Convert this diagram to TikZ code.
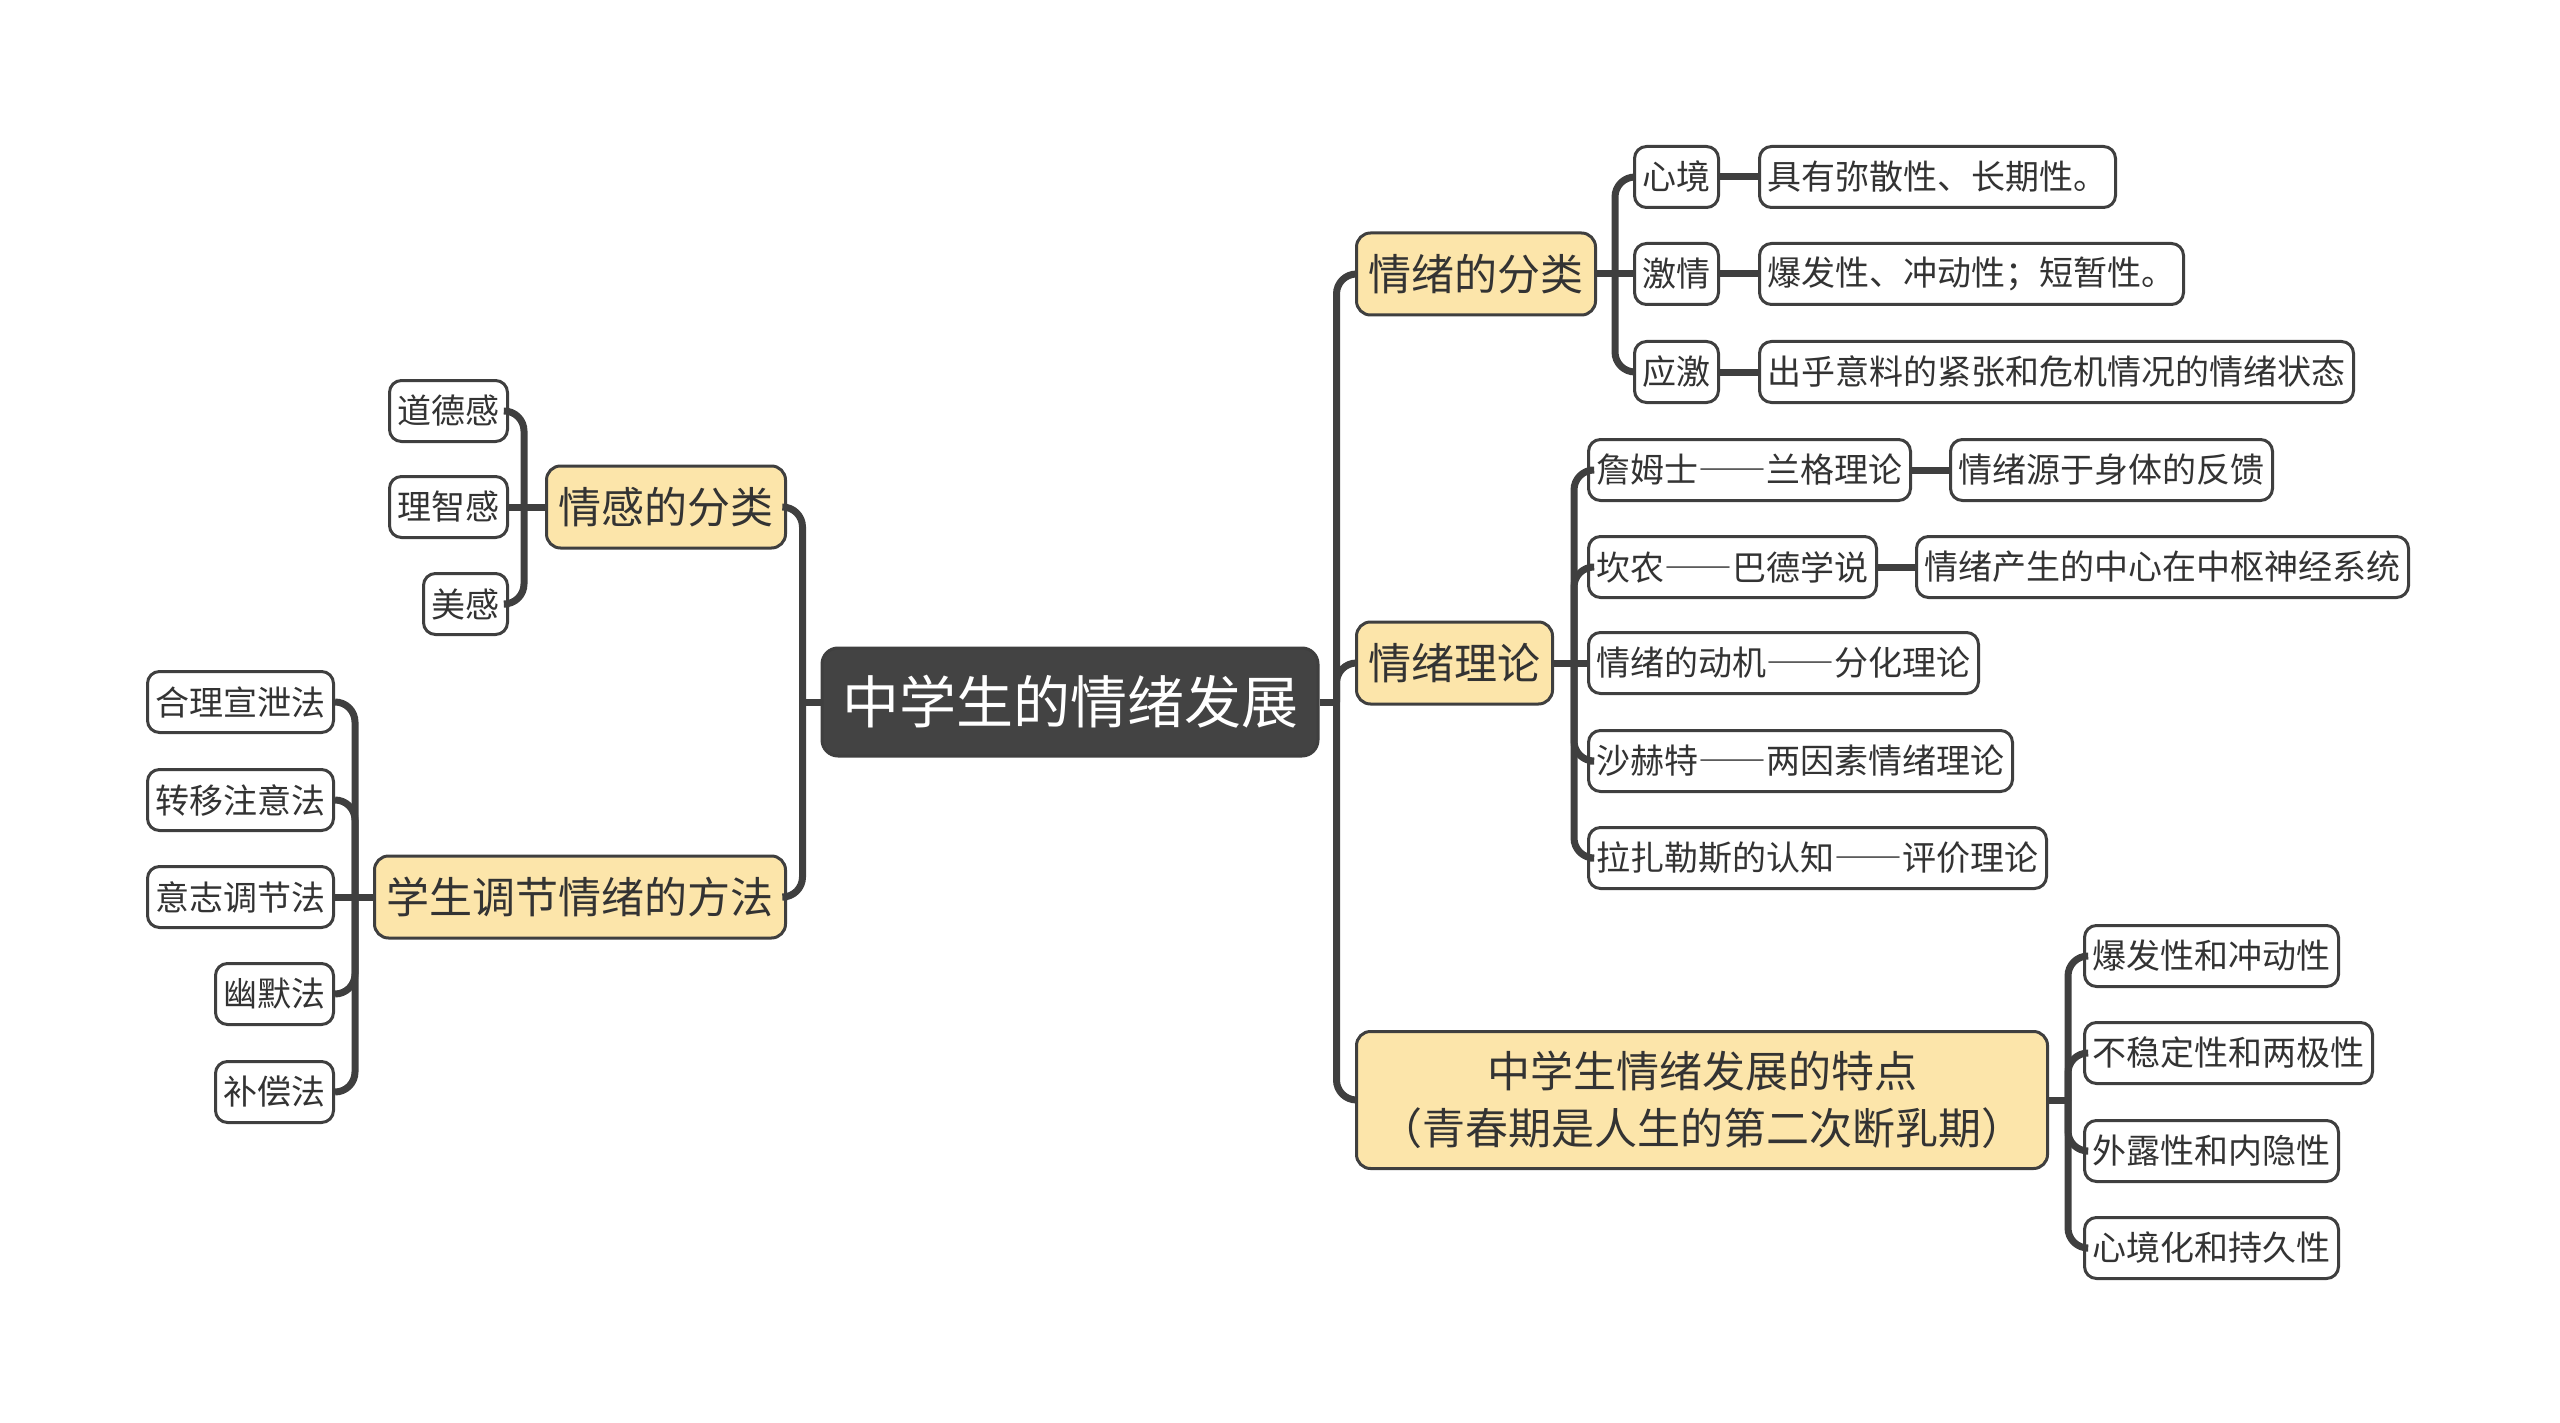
\documentclass[tikz,border=0pt]{standalone}
\usepackage{fontspec}
\usepackage{tikz}
\newfontfamily\cjk{Noto Sans CJK SC}
\newcommand{\longdash}{{\addfontfeature{CharacterWidth=Full}——}}
\usetikzlibrary{positioning}
\definecolor{linegray}{HTML}{3F3F3F}
\definecolor{rootgray}{HTML}{434343}
\definecolor{topicyellow}{HTML}{FCE5AA}
\definecolor{inkgray}{HTML}{333333}

\begin{document}
\begin{tikzpicture}[
    x=1pt, y=-1pt,
    root/.style={
        draw=linegray, line width=3pt, fill=rootgray, text=white,
        rounded corners=16pt, inner xsep=20pt, minimum height=108pt,
        font=\cjk\fontsize{57}{68}\selectfont,
    },
    topic/.style={
        draw=linegray, line width=3pt, fill=topicyellow, text=inkgray,
        rounded corners=14pt, inner xsep=12pt, minimum height=82pt, align=center,
        font=\cjk\fontsize{43}{57}\selectfont,
    },
    leaf/.style={
        draw=linegray, line width=3pt, fill=white, text=inkgray,
        rounded corners=12pt, inner xsep=8pt, minimum height=61pt,
        font=\cjk\fontsize{34}{40}\selectfont,
    },
    link/.style={draw=linegray, line width=7pt, rounded corners=20pt},
]
\useasboundingbox (0,0) rectangle (2560,1423);

\node[root] (root) at (1070,702) {中学生的情绪发展};

\node[topic, anchor=west] (fenlei) at (1355,274) {情绪的分类};
\node[topic, anchor=west] (lilun) at (1355,663) {情绪理论};
\node[topic, anchor=west, minimum height=137pt, minimum width=691pt] (tedian) at (1355,1100) {%
    中学生情绪发展的特点\\（青春期是人生的第二次断乳期）};
\node[topic, anchor=east] (qinggan) at (787,507) {情感的分类};
\node[topic, anchor=east] (tiaojie) at (787,897) {学生调节情绪的方法};

\node[leaf, anchor=east] (daode) at (509,411) {道德感};
\node[leaf, anchor=east] (lizhi) at (509,507) {理智感};
\node[leaf, anchor=east] (meigan) at (509,604) {美感};

\node[leaf, anchor=east] (heli) at (335,702) {合理宣泄法};
\node[leaf, anchor=east] (zhuanyi) at (335,800) {转移注意法};
\node[leaf, anchor=east] (yizhi) at (335,897) {意志调节法};
\node[leaf, anchor=east] (youmo) at (335,994) {幽默法};
\node[leaf, anchor=east] (buchang) at (335,1092) {补偿法};

\node[leaf, anchor=west] (xinjing) at (1633,177) {心境};
\node[leaf, anchor=west] (jiqing) at (1633,274) {激情};
\node[leaf, anchor=west] (yingji) at (1633,372) {应激};
\node[leaf, right=38pt of xinjing] (xinjingd) {具有弥散性、长期性。};
\node[leaf, right=38pt of jiqing] (jiqingd) {爆发性、冲动性；短暂性。};
\node[leaf, right=38pt of yingji] (yingjid) {出乎意料的紧张和危机情况的情绪状态};

\node[leaf, anchor=west] (james) at (1587,470) {詹姆士\longdash 兰格理论};
\node[leaf, anchor=west] (cannon) at (1587,567) {坎农\longdash 巴德学说};
\node[leaf, anchor=west] (dongji) at (1587,663) {情绪的动机\longdash 分化理论};
\node[leaf, anchor=west] (shahete) at (1587,761) {沙赫特\longdash 两因素情绪理论};
\node[leaf, anchor=west] (lazha) at (1587,858) {拉扎勒斯的认知\longdash 评价理论};
\node[leaf, right=37pt of james] (jamesd) {情绪源于身体的反馈};
\node[leaf, right=37pt of cannon] (cannond) {情绪产生的中心在中枢神经系统};

\node[leaf, anchor=west] (baofa) at (2083,956) {爆发性和冲动性};
\node[leaf, anchor=west] (buwen) at (2083,1053) {不稳定性和两极性};
\node[leaf, anchor=west] (wailu) at (2083,1151) {外露性和内隐性};
\node[leaf, anchor=west] (chijiu) at (2083,1248) {心境化和持久性};

\draw[link] (root.east) -- ++(17,0) coordinate (rj);
\draw[link] (rj) |- (fenlei.west);
\draw[link] (rj) |- (lilun.west);
\draw[link] (rj) |- (tedian.west);

\draw[link] (root.west) -- ++(-18,0) coordinate (lj);
\draw[link] (lj) |- (qinggan.east);
\draw[link] (lj) |- (tiaojie.east);

\draw[link] (qinggan.west) -- ++(-21,0) coordinate (qj);
\draw[link] (qj) |- (daode.east);
\draw[link] (qj) -- (lizhi.east);
\draw[link] (qj) |- (meigan.east);

\draw[link] (tiaojie.west) -- ++(-18,0) coordinate (tj);
\draw[link] (tj) |- (heli.east);
\draw[link] (tj) |- (zhuanyi.east);
\draw[link] (tj) -- (yizhi.east);
\draw[link] (tj) |- (youmo.east);
\draw[link] (tj) |- (buchang.east);

\draw[link] (fenlei.east) -- ++(18,0) coordinate (fj);
\draw[link] (fj) |- (xinjing.west);
\draw[link] (fj) -- (jiqing.west);
\draw[link] (fj) |- (yingji.west);
\draw[link] (xinjing) -- (xinjingd);
\draw[link] (jiqing) -- (jiqingd);
\draw[link] (yingji) -- (yingjid);

\draw[link] (lilun.east) -- ++(20,0) coordinate (lt);
\draw[link] (lt) |- (james.west);
\draw[link] (lt) |- (cannon.west);
\draw[link] (lt) -- (dongji.west);
\draw[link] (lt) |- (shahete.west);
\draw[link] (lt) |- (lazha.west);
\draw[link] (james) -- (jamesd);
\draw[link] (cannon) -- (cannond);

\draw[link] (tedian.east) -- ++(19,0) coordinate (dj);
\draw[link] (dj) |- (baofa.west);
\draw[link] (dj) |- (buwen.west);
\draw[link] (dj) |- (wailu.west);
\draw[link] (dj) |- (chijiu.west);

\end{tikzpicture}
\end{document}
